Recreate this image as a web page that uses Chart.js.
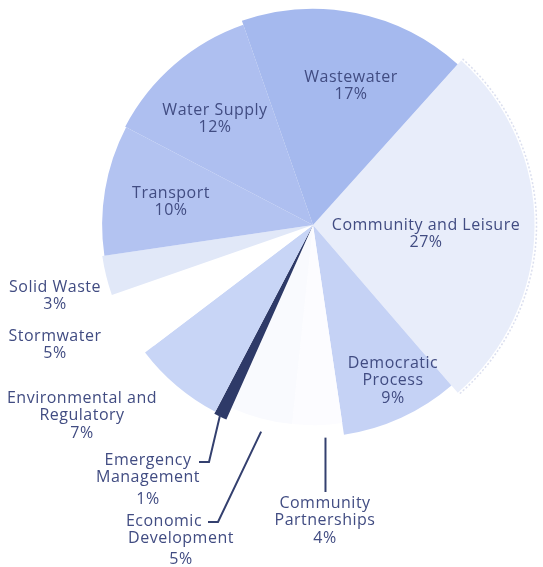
<!DOCTYPE html>
<html>
<head>
<meta charset="utf-8">
<script src="https://cdn.jsdelivr.net/npm/chart.js@4.4.1/dist/chart.umd.min.js"></script>
<style>
  html, body { margin: 0; padding: 0; background: #fff; }
</style>
</head>
<body>
<canvas id="chart" width="543" height="567"></canvas>
<script>
const categories = ['Community and Leisure', 'Democratic Process', 'Community Partnerships', 'Economic Development',
    'Emergency Management', 'Environmental and Regulatory', 'Stormwater', 'Solid Waste', 'Transport', 'Water Supply', 'Wastewater'];
const shares = [27, 9, 4, 5, 1, 7, 5, 3, 10, 12, 17];
// wedge length, 100 = the common radius
const radii = [104, 99.5, 94, 94, 100, 99, 94, 100, 99, 99.5, 101.5];

const colors = ['#e8edfa', '#c5d2f5', '#fcfcff', '#f9fafe', '#2e3a68', '#c8d5f6', '#ffffff', '#e1e8f8', '#b3c3f1', '#aebff0', '#a5b9ee'];
const textColor = '#414c82';
const lineH = 17.5;

// where each label goes: inside ones relative to the pie centre, outside ones on the page
const placement = [
    { lines: ['Community and Leisure'], dx: 113, dy: 0 },
    { lines: ['Democratic', 'Process'], dx: 80, dy: 138 },
    { lines: ['Community', 'Partnerships'], x: 325, y: 503, leader: { frac: 0.35, r: 213, down: 492 } },
    { lines: ['Economic', 'Development'], x: 181, y: 521, shift: [-17, 0, 0], gap: 3, leader: { frac: 0.45, r: 213, elbow: [218, 522], end: 208 } },
    { lines: ['Emergency', 'Management'], x: 148, y: 460, gap: 4, leader: { frac: 0.58, r: 211, elbow: [209, 462], end: 199 } },
    { lines: ['Environmental and', 'Regulatory'], x: 82, y: 398 },
    { lines: ['Stormwater'], x: 55, y: 336 },
    { lines: ['Solid Waste'], x: 55, y: 287 },
    { lines: ['Transport'], dx: -142, dy: -32 },
    { lines: ['Water Supply'], dx: -98, dy: -115 },
    { lines: ['Wastewater'], dx: 38, dy: -148 }
];

const pieLabels = {
    id: 'pieLabels',
    afterDatasetsDraw(chart) {
        const ctx = chart.ctx;
        const arcs = chart.getDatasetMeta(0).data;
        const cx = arcs[0].x, cy = arcs[0].y;
        ctx.save();

        // faint rim round the biggest wedge
        const big = arcs[0];
        ctx.strokeStyle = 'rgba(175,185,220,0.45)';
        ctx.lineWidth = 1.5;
        ctx.setLineDash([2, 2]);
        ctx.beginPath();
        ctx.arc(cx, cy, big.outerRadius + 2, big.startAngle, big.endAngle);
        ctx.stroke();
        ctx.setLineDash([]);

        ctx.font = '16px "Open Sans"';
        ctx.letterSpacing = '0.5px';
        ctx.fillStyle = textColor;
        ctx.textAlign = 'center';
        ctx.textBaseline = 'middle';
        arcs.forEach((arc, i) => {
            const p = placement[i];
            const lines = [...p.lines, shares[i] + '%'];
            const x = p.x !== undefined ? p.x : cx + p.dx;
            const y = p.y !== undefined ? p.y : cy + p.dy;
            lines.forEach((t, k) => {
                const extra = (k === lines.length - 1 && p.gap) ? p.gap : 0;
                ctx.fillText(t, x + (p.shift ? p.shift[k] : 0), y + k * lineH + extra);
            });
            if (p.leader) {
                const L = p.leader;
                const a = arc.startAngle + L.frac * (arc.endAngle - arc.startAngle);
                const sx = cx + L.r * Math.cos(a), sy = cy + L.r * Math.sin(a);
                ctx.strokeStyle = '#34406f';
                ctx.lineWidth = 2;
                ctx.beginPath();
                ctx.moveTo(sx, sy);
                if (L.down) {
                    ctx.lineTo(sx, L.down);
                } else {
                    ctx.lineTo(L.elbow[0], L.elbow[1]);
                    ctx.lineTo(L.end, L.elbow[1]);
                }
                ctx.stroke();
            }
        });
        ctx.restore();
    }
};

new Chart(document.getElementById('chart'), {
    type: 'polarArea',
    data: {
        labels: categories,
        datasets: [{
            data: radii,
            backgroundColor: colors,
            borderWidth: 0,
            angle: (c) => shares[c.dataIndex] * 3.6,
            clip: false
        }]
    },
    options: {
        responsive: false,
        animation: false,
        layout: { padding: { left: 100, right: 17, top: 12, bottom: 129 } },
        scales: {
            r: { display: false, min: 0, max: 100, startAngle: 42 }
        },
        plugins: { legend: { display: false }, tooltip: { enabled: false } }
    },
    plugins: [pieLabels]
});
</script>
</body>
</html>
